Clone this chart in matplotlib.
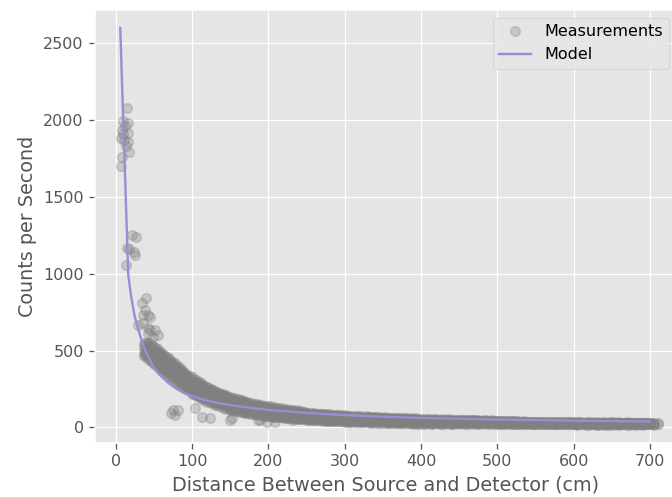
import matplotlib
matplotlib.use("Agg")
import matplotlib.pyplot as plt

plt.style.use("ggplot")

# Sparse measurements close to the source (distance cm, counts per second)
sparse_distance = [15.2, 10, 16.5, 12, 7.8, 9, 16.5, 7, 11, 16.5, 14, 17.4, 8.7, 7,
                   21, 26.6, 14.4, 24, 25.3, 13.5, 18,
                   39.7, 34, 38.4, 36.2, 42.7, 45, 29.6, 36.2, 42.7, 45, 55.8, 49.3, 42.7, 51.5,
                   75.5, 82, 77.7, 73, 104, 112.7, 123.5, 152, 189, 208.7, 230.6, 150, 187, 198]
sparse_counts = [2081, 1994, 1979, 1960, 1935, 1910, 1914, 1881, 1870, 1859, 1830, 1794, 1762, 1701,
                 1252, 1237, 1165, 1143, 1122, 1057, 1160,
                 840, 807, 764, 731, 731, 720, 666, 677, 644, 633, 601, 590, 612, 633,
                 113, 113, 80, 95, 124, 65, 59, 59, 48, 37, 48, 48, 48, 37]

# Dense measurements, run 1: distance -> repeated readings
near_field_run1 = {
    40: [462, 538, 495, 551, 473, 517, 489],
    45: [436, 549, 481, 507, 458, 529, 470],
    50: [445, 412, 526, 488, 463, 503, 431],
    55: [402, 478, 455, 392, 509, 428, 491],
    60: [389, 455, 372, 486, 418, 437, 470],
    65: [371, 352, 445, 398, 463, 416, 384],
    70: [346, 437, 408, 335, 381, 449, 362],
    75: [327, 419, 358, 393, 312, 405, 371],
    80: [297, 351, 402, 318, 377, 339, 388],
    85: [281, 364, 309, 378, 334, 293, 352],
    90: [263, 327, 349, 291, 276, 361, 310],
    95: [248, 303, 337, 271, 322, 256, 289],
    100: [219, 284, 327, 246, 300, 232, 265],
    105: [204, 297, 253, 229, 310, 268, 216],
    110: [238, 191, 281, 207, 262, 294, 223],
    115: [179, 226, 271, 201, 248, 190, 259],
    120: [213, 168, 241, 190, 264, 178, 229],
    125: [158, 202, 244, 177, 221, 251, 189],
    130: [189, 147, 226, 165, 207, 237, 155],
    135: [138, 181, 215, 157, 226, 168, 199],
    140: [171, 129, 203, 146, 214, 158, 187],
    145: [122, 164, 195, 139, 208, 151, 178],
}
mid_field_run1 = {
    150: [121, 183, 140, 198, 115, 162], 155: [131, 109, 176, 152, 193, 124],
    160: [104, 147, 171, 118, 186, 135], 165: [163, 99, 128, 179, 112, 144],
    170: [94, 152, 119, 168, 137, 103], 175: [141, 91, 124, 160, 107, 133],
    180: [116, 87, 155, 99, 138, 127], 185: [84, 131, 110, 149, 95, 121],
    190: [121, 80, 143, 102, 89, 133], 195: [93, 138, 77, 112, 126, 101],
    200: [74, 118, 95, 136, 84, 107], 205: [102, 70, 129, 87, 115, 79],
    210: [83, 124, 68, 98, 111, 91], 215: [65, 94, 120, 76, 107, 86],
    220: [97, 63, 116, 82, 72, 104], 225: [60, 89, 112, 74, 99, 68],
    230: [85, 58, 103, 71, 114, 93], 235: [62, 98, 56, 80, 108, 74],
    240: [91, 54, 77, 104, 66, 84], 245: [52, 81, 69, 99, 60, 88],
    250: [74, 50, 94, 62, 83, 56], 255: [47, 70, 89, 58, 78, 64],
    260: [85, 46, 66, 75, 53, 91], 265: [58, 80, 45, 69, 88, 51],
    270: [44, 72, 63, 86, 49, 78], 275: [67, 42, 83, 55, 74, 61],
    280: [50, 79, 41, 65, 85, 58], 285: [73, 40, 61, 82, 47, 68],
    290: [39, 57, 76, 52, 80, 64], 295: [62, 38, 71, 49, 78, 55],
}
far_field_run1 = {
    300: [44, 71, 37, 58, 79], 305: [63, 36, 52, 76, 47], 310: [41, 74, 55, 35, 66],
    315: [58, 39, 72, 48, 34], 320: [35, 61, 45, 73, 53], 325: [69, 43, 33, 57, 50],
    330: [48, 66, 32, 56, 70], 335: [37, 58, 69, 44, 31], 340: [62, 33, 51, 68, 41],
    345: [45, 66, 30, 55, 38], 350: [31, 52, 64, 40, 59], 355: [57, 36, 63, 29, 47],
    360: [42, 61, 33, 54, 29], 365: [62, 28, 49, 38, 56], 370: [35, 55, 27, 60, 44],
    375: [50, 30, 59, 41, 27], 380: [27, 46, 58, 36, 52], 385: [55, 25, 40, 59, 33],
    390: [38, 57, 24, 48, 31], 395: [29, 51, 42, 57, 24], 400: [47, 23, 56, 35, 41],
    405: [28, 49, 37, 22], 410: [44, 25, 53, 33], 415: [31, 50, 23, 41], 420: [52, 35, 27, 46],
    425: [24, 43, 50, 30], 430: [39, 22, 48, 34], 435: [47, 29, 37, 51], 440: [26, 45, 33, 23],
    445: [42, 50, 28, 36], 450: [21, 38, 49, 31], 455: [45, 27, 35, 48], 460: [30, 47, 22, 40],
    465: [37, 24, 46, 32], 470: [48, 33, 27, 43], 475: [23, 41, 46, 29], 480: [39, 28, 44, 21],
    485: [32, 45, 25, 38], 490: [44, 22, 36, 29], 495: [27, 40, 43, 33], 500: [35, 22, 42, 29],
    505: [41, 30, 24, 38], 510: [23, 37, 40, 31], 515: [34, 27, 41, 22], 520: [39, 21, 32, 36],
    525: [26, 38, 30, 22], 530: [33, 24, 37, 28], 535: [21, 35, 29, 38], 540: [30, 36, 22, 26],
    545: [37, 27, 33, 20], 550: [24, 31, 35, 21], 555: [32, 20, 28, 36], 560: [26, 34, 22, 30],
    565: [35, 23, 31, 27], 570: [20, 29, 34, 25], 575: [31, 24, 21, 33], 580: [27, 33, 19, 29],
    585: [22, 30, 34, 25], 590: [32, 19, 27, 31], 595: [25, 34, 21, 28], 600: [30, 22, 33, 19],
    605: [18, 28, 24, 32], 610: [29, 33, 20, 26], 615: [23, 19, 31, 27], 620: [32, 26, 18, 29],
    625: [20, 30, 25, 33], 630: [27, 17, 31, 22], 635: [31, 24, 19, 28], 640: [18, 29, 32, 23],
    645: [26, 21, 30, 17], 650: [30, 25, 18, 32], 655: [22, 31, 27, 19], 660: [28, 17, 24, 31],
    665: [19, 30, 26, 22], 670: [29, 23, 16, 32], 675: [25, 31, 20, 27], 680: [17, 26, 30, 22],
    685: [28, 21, 25, 31], 690: [23, 30, 18, 26], 695: [27, 19, 29, 24], 700: [20, 26, 22, 30],
    705: [24, 18, 27], 710: [21, 25],
}

# Dense measurements, run 2 (half-step distances)
near_field_run2 = {
    37.5: [478, 552, 503, 531, 466],
    42.5: [447, 529, 494, 551, 468, 512],
    47.5: [461, 425, 507, 536, 483, 441],
    52.5: [437, 516, 404, 478, 455, 497],
    57.5: [396, 452, 488, 419, 471, 383],
    62.5: [414, 366, 476, 441, 389, 458],
    67.5: [351, 423, 398, 456, 372, 437],
    72.5: [378, 329, 434, 356, 401, 417],
    77.5: [311, 364, 395, 418, 342, 379],
    82.5: [357, 288, 392, 319, 374, 302],
    87.5: [271, 336, 312, 369, 289, 354],
    92.5: [326, 253, 298, 347, 272, 311],
    97.5: [245, 294, 331, 262, 313, 279],
    102.5: [288, 219, 312, 247, 270, 233],
    107.5: [221, 269, 297, 238, 284, 209],
    112.5: [256, 197, 282, 214, 239, 270],
    117.5: [186, 233, 266, 205, 251, 219],
    122.5: [227, 174, 253, 196, 211, 242],
    127.5: [171, 219, 240, 187, 205, 164],
    132.5: [203, 155, 228, 174, 191, 217],
    137.5: [149, 186, 217, 163, 205, 175],
    142.5: [194, 137, 167, 208, 151, 182],
    147.5: [133, 171, 199, 146, 186, 158],
}
mid_field_run2 = {
    152.5: [126, 179, 113, 158, 194], 157.5: [149, 107, 183, 126, 168],
    162.5: [101, 139, 176, 122, 161], 167.5: [158, 97, 133, 171, 114],
    172.5: [121, 164, 93, 146, 108], 177.5: [89, 138, 157, 112, 126],
    182.5: [143, 96, 118, 152, 86], 187.5: [104, 82, 137, 147, 121],
    192.5: [129, 79, 113, 96, 142], 197.5: [86, 134, 105, 76, 121],
    202.5: [111, 73, 129, 92, 136], 207.5: [80, 121, 101, 131, 70],
    212.5: [118, 68, 95, 127, 84], 217.5: [73, 109, 89, 124, 65],
    222.5: [101, 63, 117, 80, 92], 227.5: [69, 112, 86, 61, 98],
    232.5: [92, 59, 108, 76, 113], 237.5: [64, 101, 83, 57, 110],
    242.5: [87, 55, 104, 70, 95], 247.5: [58, 93, 76, 100, 52],
    252.5: [81, 51, 96, 66, 88], 257.5: [54, 86, 71, 49, 93],
    262.5: [77, 48, 90, 62, 83], 267.5: [52, 84, 66, 46, 89],
    272.5: [71, 45, 87, 58, 80], 277.5: [49, 77, 64, 85, 44],
    282.5: [69, 43, 83, 56, 76], 287.5: [47, 73, 60, 81, 42],
    292.5: [65, 41, 79, 53, 72], 297.5: [45, 70, 58, 77, 40],
}
far_field_run2 = {
    302.5: [52, 39, 68, 77], 307.5: [61, 44, 36, 73], 312.5: [38, 57, 70, 48],
    317.5: [65, 36, 51, 74], 322.5: [43, 69, 34, 59], 327.5: [56, 38, 71, 46],
    332.5: [35, 62, 49, 68], 337.5: [53, 40, 65, 33], 342.5: [44, 66, 31, 57],
    347.5: [62, 35, 50, 41], 352.5: [37, 58, 46, 65], 357.5: [51, 30, 61, 40],
    362.5: [34, 55, 63, 45], 367.5: [58, 41, 29, 51], 372.5: [47, 31, 59, 38],
    377.5: [33, 54, 43, 60], 382.5: [49, 28, 56, 39], 387.5: [36, 52, 27, 45],
    392.5: [54, 32, 43, 58], 397.5: [40, 26, 50, 35], 402.5: [33, 52, 25, 44],
    407.5: [46, 30, 39, 54], 412.5: [24, 41, 49, 36], 417.5: [38, 53, 29, 45],
    422.5: [48, 26, 41, 33], 427.5: [35, 46, 22, 52], 432.5: [27, 43, 36, 50],
    437.5: [44, 32, 49, 24], 442.5: [30, 47, 39, 21], 447.5: [48, 25, 34, 44],
    452.5: [33, 42, 26, 47], 457.5: [39, 22, 49, 30], 462.5: [25, 43, 34, 46],
    467.5: [42, 29, 45, 35], 472.5: [31, 38, 22, 45], 477.5: [44, 34, 25, 39],
    482.5: [26, 41, 35, 46], 487.5: [40, 30, 43, 23], 492.5: [33, 46, 27, 38],
    497.5: [41, 24, 36, 31], 502.5: [27, 39, 32, 21], 507.5: [36, 22, 42, 29],
    512.5: [29, 35, 25, 41], 517.5: [38, 31, 20, 33], 522.5: [24, 36, 29, 40],
    527.5: [35, 27, 39, 21], 532.5: [22, 31, 36, 26], 537.5: [32, 25, 20, 37],
    542.5: [27, 34, 23, 30], 547.5: [21, 29, 36, 25], 552.5: [30, 23, 33, 27],
    557.5: [25, 35, 21, 31], 562.5: [33, 20, 28, 24], 567.5: [22, 30, 26, 35],
    572.5: [28, 34, 23, 19], 577.5: [24, 20, 32, 28], 582.5: [31, 26, 22, 35],
    587.5: [20, 28, 33, 24], 592.5: [29, 23, 35, 20], 597.5: [23, 31, 26, 33],
    602.5: [27, 21, 30, 24], 607.5: [33, 25, 19, 29], 612.5: [21, 30, 27, 23],
    617.5: [28, 24, 33, 18], 622.5: [23, 31, 21, 27], 627.5: [30, 19, 28, 24],
    632.5: [25, 32, 22, 18], 637.5: [21, 27, 30, 25], 642.5: [31, 20, 24, 28],
    647.5: [23, 29, 19, 33], 652.5: [27, 21, 30, 24], 657.5: [19, 26, 32, 22],
    662.5: [30, 24, 20, 27], 667.5: [22, 28, 25, 31], 672.5: [27, 18, 30, 23],
    677.5: [21, 29, 24, 28], 682.5: [30, 23, 19, 26], 687.5: [24, 27, 31, 20],
    692.5: [19, 28, 23, 25], 697.5: [26, 21, 29], 702.5: [22, 27],
}

# Fitted model curve
model_distance = [6, 16.5, 20, 25, 30, 35, 40, 45, 50, 55, 60, 70, 80, 90, 100, 115, 130, 150,
                  175, 200, 250, 300, 350, 400, 500, 600, 700]
model_counts = [2600, 990, 860, 720, 630, 550, 485, 435, 390, 358, 330, 285, 250, 222, 204, 180,
                162, 145, 128, 113, 94, 80, 69, 61, 51, 44, 38]

meas_x = list(sparse_distance)
meas_y = list(sparse_counts)
for table in (near_field_run1, mid_field_run1, far_field_run1,
              near_field_run2, mid_field_run2, far_field_run2):
    for d, vals in table.items():
        meas_x.extend([d] * len(vals))
        meas_y.extend(vals)

dpi = 115
fig = plt.figure(figsize=(672 / dpi, 497 / dpi), dpi=dpi)
ax = fig.add_axes([95 / 672, 54 / 497, 582 / 672, 433 / 497])

ax.plot(meas_x, meas_y, "o", color="gray", alpha=0.3, label="Measurements")
ax.plot(model_distance, model_counts, color="#988ED5", label="Model")

ax.set_xlim(-27.1, 735.4)
ax.set_ylim(-102, 2717)
ax.set_xticks([0, 100, 200, 300, 400, 500, 600, 700])
ax.set_yticks([0, 500, 1000, 1500, 2000, 2500])
ax.set_xlabel("Distance Between Source and Detector (cm)")
ax.set_ylabel("Counts per Second")
ax.legend(loc="upper right")

fig.savefig("out.png", dpi=dpi)
